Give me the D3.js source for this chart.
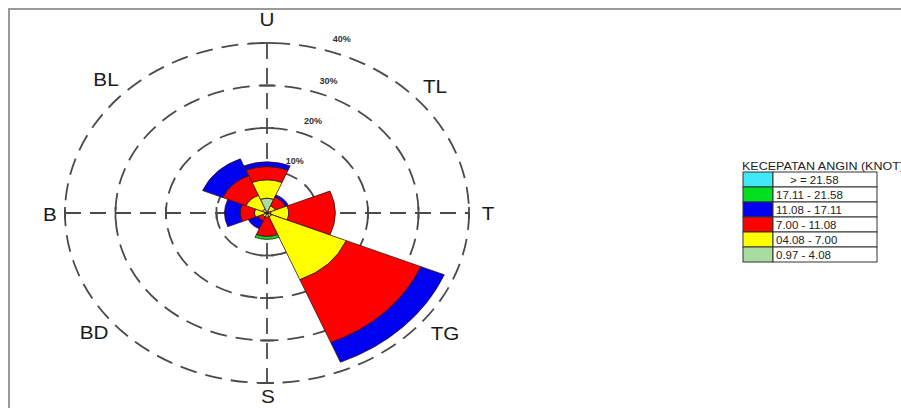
<!DOCTYPE html>
<html>
<head>
<meta charset="utf-8">
<script src="https://cdn.jsdelivr.net/npm/d3@7"></script>
<style>
  body { margin: 0; background: #fff; }
  text { font-family: "Liberation Sans", Arial, sans-serif; }
</style>
</head>
<body>
<svg id="chart" width="901" height="408"></svg>
<script>
// Wind directions (Indonesian compass: U=utara, T=timur, S=selatan, B=barat)
const directions = ["U", "TL", "T", "TG", "S", "BD", "B", "BL"];

// Wind speed classes (knots), lowest first
const speedClasses = ["0.97 - 4.08", "04.08 - 7.00", "7.00 - 11.08", "11.08 - 17.11", "17.11 - 21.58", "> = 21.58"];
const classColors = ["#a8dca0", "#ffff00", "#ff0000", "#0000f0", "#00e020", "#40e8f8"];

// Frequency (%) per direction for each speed class, same order as directions
const freq_097_408 = [3.5, 0.5, 0.8, 1.0, 0.3, 0.3, 0.5, 1.0];
const freq_408_700 = [4.3, 1.3, 3.5, 16.0, 0.7, 0.7, 2.0, 3.5];
const freq_700_1108 = [3.1, 2.2, 9.2, 16.0, 4.5, 1.0, 2.8, 5.0];
const freq_1108_1711 = [1.1, 0.6, 0.0, 5.0, 0.0, 2.0, 3.1, 4.3];
const freq_1711_2158 = [0.0, 0.0, 0.0, 0.0, 0.7, 0.0, 0.0, 0.0];
const freq_2158_up = [0.0, 0.0, 0.0, 0.0, 0.0, 0.0, 0.0, 0.0];

// Rings
const ringTicks = [10, 20, 30, 40];
const ringLabels = ["10%", "20%", "30%", "40%"];

const classFreqs = [freq_097_408, freq_408_700, freq_700_1108, freq_1108_1711, freq_1711_2158, freq_2158_up];

const svg = d3.select("#chart");
const cx = 267, cy = 213;
const k = 42.5 / 50.5;            // vertical squash of the rose
const r = d3.scaleLinear().domain([0, 40]).range([0, 202]);
const deg = Math.PI / 180;

// outer frame
svg.append("path")
  .attr("d", "M9,408 L9,9 L901,9")
  .attr("fill", "none").attr("stroke", "#9a9a9a").attr("stroke-width", 2);

// dashed rings
svg.selectAll("ellipse.ring").data(ringTicks).join("ellipse")
  .attr("class", "ring")
  .attr("cx", cx).attr("cy", cy)
  .attr("rx", d => r(d)).attr("ry", d => r(d) * k)
  .attr("fill", "none").attr("stroke", "#4a4a4a").attr("stroke-width", 1.8)
  .attr("stroke-dasharray", "17,9");

// dashed axes
const R = r(40);
const axisG = svg.append("g").attr("stroke", "#4a4a4a").attr("stroke-width", 1.8);
axisG.append("line").attr("x1", cx - R).attr("x2", cx + R).attr("y1", cy).attr("y2", cy)
  .attr("stroke-dasharray", "16,9");
axisG.append("line").attr("x1", cx).attr("x2", cx).attr("y1", cy - R * k).attr("y2", cy + R * k)
  .attr("stroke-dasharray", "16,9");
ringTicks.forEach(t => {
  [-1, 1].forEach(s => {
    axisG.append("line").attr("x1", cx + s * r(t)).attr("x2", cx + s * r(t))
      .attr("y1", cy - 6).attr("y2", cy + 6);
    axisG.append("line").attr("x1", cx - 7).attr("x2", cx + 7)
      .attr("y1", cy + s * r(t) * k).attr("y2", cy + s * r(t) * k);
  });
});

// stacked petals
const segments = [];
directions.forEach((dname, i) => {
  let acc = 0;
  classFreqs.forEach((arr, c) => {
    const v = arr[i];
    if (v > 0) {
      segments.push({ dir: i, cls: c, inner: acc, outer: acc + v });
      acc += v;
    }
  });
});

const arc = d3.arc()
  .innerRadius(d => r(d.inner))
  .outerRadius(d => r(d.outer))
  .startAngle(d => (d.dir * 45 - 22.5) * deg)
  .endAngle(d => (d.dir * 45 + 22.5) * deg);

svg.append("g")
  .attr("transform", `translate(${cx},${cy}) scale(1,${k})`)
  .selectAll("path").data(segments).join("path")
  .attr("d", arc)
  .attr("fill", d => classColors[d.cls])
  .attr("stroke", "#3a1010")
  .attr("stroke-width", 0.8)
  .attr("vector-effect", "non-scaling-stroke");

// ring percentage labels, set just outside each ring
ringTicks.forEach((t, i) => {
  const a = (26 - t * 0.15) * deg, rr = r(t + 3.3);
  svg.append("text")
    .attr("x", cx + rr * Math.sin(a))
    .attr("y", cy - rr * k * Math.cos(a))
    .attr("text-anchor", "middle").attr("dominant-baseline", "middle")
    .attr("font-size", 9).attr("font-weight", "bold").attr("fill", "#333")
    .text(ringLabels[i]);
});

// compass labels
const labelPos = {
  U: [267, 20], TL: [435, 87], T: [488, 214], TG: [445, 334],
  S: [268, 397], BD: [94, 333], B: [50, 215], BL: [106, 80]
};
directions.forEach(dname => {
  const [x, y] = labelPos[dname];
  svg.append("text")
    .attr("transform", `translate(${x},${y}) scale(1.15,1)`)
    .attr("text-anchor", "middle").attr("dominant-baseline", "central")
    .attr("font-size", 18).attr("fill", "#1a1a1a")
    .text(dname);
});

// legend
const lx = 743, ly = 172, rowH = 15, colW = 30, boxW = 134;
svg.append("text")
  .attr("x", 742).attr("y", 170)
  .attr("font-size", 10).attr("fill", "#222")
  .attr("textLength", 162).attr("lengthAdjust", "spacingAndGlyphs")
  .text("KECEPATAN ANGIN (KNOT)");

const legendOrder = d3.range(speedClasses.length).reverse();
legendOrder.forEach((c, j) => {
  const y = ly + j * rowH;
  svg.append("rect").attr("x", lx).attr("y", y).attr("width", colW).attr("height", rowH)
    .attr("fill", classColors[c]).attr("stroke", "#333").attr("stroke-width", 1);
  svg.append("rect").attr("x", lx + colW).attr("y", y).attr("width", boxW - colW).attr("height", rowH)
    .attr("fill", "#fff").attr("stroke", "#333").attr("stroke-width", 1);
  svg.append("text")
    .attr("transform", `translate(${c === 5 ? 790 : 776},${y + 11.5}) scale(1.15,1)`)
    .attr("font-size", 10).attr("fill", "#222")
    .text(speedClasses[c]);
});
</script>
</body>
</html>
